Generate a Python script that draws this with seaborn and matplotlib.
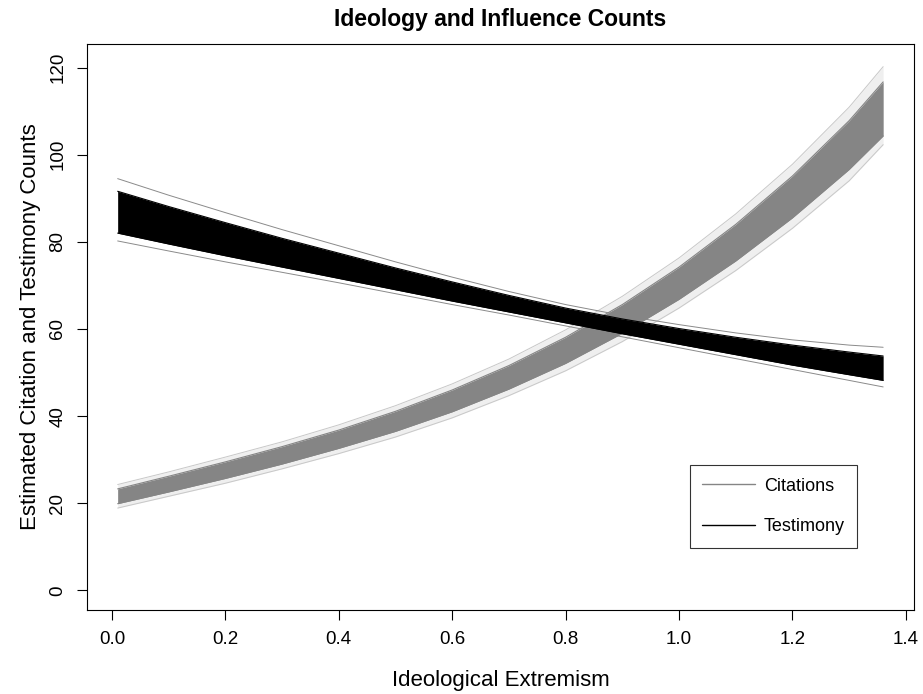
import numpy as np
import pandas as pd
import matplotlib
matplotlib.use("Agg")
import matplotlib.pyplot as plt
from matplotlib.lines import Line2D
import seaborn as sns

# ---- data ----
x_vals = [0.01, 0.1, 0.2, 0.3, 0.4, 0.5, 0.6, 0.7, 0.8, 0.9, 1.0, 1.1, 1.2, 1.3, 1.36]

cit_core_lo = [19.9, 22.6, 25.7, 29.0, 32.6, 36.5, 41.0, 46.2, 52.1, 59.0, 66.8, 75.6, 85.5, 96.6, 104.3]
cit_core_hi = [23.3, 26.2, 29.5, 33.0, 36.8, 41.1, 46.0, 51.6, 58.1, 65.6, 74.2, 84.0, 95.1, 107.8, 116.7]
cit_out_lo = [18.9, 21.6, 24.6, 27.9, 31.4, 35.2, 39.6, 44.7, 50.4, 57.1, 64.8, 73.4, 83.1, 94.0, 102.3]
cit_out_hi = [24.3, 27.2, 30.6, 34.1, 38.0, 42.4, 47.4, 53.1, 59.8, 67.5, 76.3, 86.4, 97.8, 110.9, 120.2]

tes_core_lo = [82.0, 79.5, 76.8, 74.2, 71.6, 69.0, 66.4, 63.9, 61.4, 58.9, 56.5, 54.1, 51.7, 49.5, 48.2]
tes_core_hi = [91.6, 88.1, 84.4, 80.8, 77.4, 74.0, 70.8, 67.7, 64.8, 62.3, 60.1, 58.1, 56.3, 54.7, 53.8]
tes_out_lo = [80.2, 77.9, 75.4, 73.0, 70.6, 68.1, 65.6, 63.2, 60.7, 58.2, 55.7, 53.2, 50.7, 48.2, 46.7]
tes_out_hi = [94.5, 90.7, 86.7, 82.8, 79.1, 75.4, 71.9, 68.6, 65.6, 63.1, 61.0, 59.1, 57.5, 56.3, 55.8]

series_names = ["Citations", "Testimony"]
series_colors = {"Citations": "#858585", "Testimony": "#000000"}
edge_colors = {"Citations": "#c8c8c8", "Testimony": "#8a8a8a"}
halo_alpha = {"Citations": 0.28, "Testimony": 0.0}

title = "Ideology and Influence Counts"
xlabel = "Ideological Extremism"
ylabel = "Estimated Citation and Testimony Counts"
xticks = [0.0, 0.2, 0.4, 0.6, 0.8, 1.0, 1.2, 1.4]
yticks = [0, 20, 40, 60, 80, 100, 120]

# ---- build tables ----
env = {
    "Citations": (cit_core_lo, cit_core_hi, cit_out_lo, cit_out_hi),
    "Testimony": (tes_core_lo, tes_core_hi, tes_out_lo, tes_out_hi),
}
rows = []
for s in series_names:
    clo, chi, olo, ohi = env[s]
    for name, arr in [("core_lo", clo), ("core_hi", chi), ("out_lo", olo), ("out_hi", ohi)]:
        for xv, yv in zip(x_vals, arr):
            rows.append({"series": s, "curve": name, "x": xv, "y": yv})
df = pd.DataFrame(rows)

sns.set_style("ticks")
plt.rcParams["font.family"] = ["Liberation Sans", "DejaVu Sans"]
plt.rcParams["text.color"] = "black"
plt.rcParams["axes.labelcolor"] = "black"
plt.rcParams["xtick.color"] = "black"
plt.rcParams["ytick.color"] = "black"

fig = plt.figure(figsize=(9.23, 6.94), dpi=100)
ax = fig.add_axes([0.0943, 0.121, 0.8957, 0.8156])

for s in series_names:
    clo, chi, olo, ohi = env[s]
    if halo_alpha[s] > 0:
        ax.fill_between(x_vals, olo, ohi, color=edge_colors[s], lw=0,
                        alpha=halo_alpha[s], zorder=1)
    sub = df[(df.series == s) & (df.curve.str.startswith("out"))]
    sns.lineplot(data=sub, x="x", y="y", units="curve", estimator=None,
                 color=edge_colors[s], lw=0.7, ax=ax, zorder=2, legend=False)
    ax.fill_between(x_vals, clo, chi, color=series_colors[s], lw=0, zorder=3)
    sub2 = df[(df.series == s) & (df.curve.str.startswith("core"))]
    sns.lineplot(data=sub2, x="x", y="y", units="curve", estimator=None,
                 color=series_colors[s], lw=0.8, ax=ax, zorder=3, legend=False)

ax.set_xlim(-0.044, 1.414)
ax.set_ylim(-4.5, 125.4)
ax.set_xticks(xticks)
ax.set_xticklabels([f"{t:.1f}" for t in xticks], fontsize=13.5)
ax.set_yticks(yticks)
ax.set_yticklabels([str(t) for t in yticks], fontsize=13.5, rotation=90, va="center")
ax.tick_params(axis="both", direction="out", length=7, width=0.8, color="black", pad=8)
for sp in ax.spines.values():
    sp.set_visible(True)
    sp.set_color("black")
    sp.set_linewidth(0.8)

ax.set_xlabel(xlabel, fontsize=16, labelpad=16)
ax.set_ylabel(ylabel, fontsize=16, labelpad=6)
ax.set_title(title, fontsize=16.5, fontweight="bold", pad=13)

handles = [Line2D([0], [0], color="#858585", lw=1.0),
           Line2D([0], [0], color="black", lw=1.0)]
leg = ax.legend(handles, series_names, loc="upper left", bbox_to_anchor=(0.729, 0.256),
                fontsize=13, frameon=True, fancybox=False, handlelength=2.9,
                handletextpad=0.5, borderpad=0.7, labelspacing=1.3, borderaxespad=0)
leg.get_frame().set_edgecolor("black")
leg.get_frame().set_linewidth(0.8)

fig.savefig("out.png", dpi=100)
